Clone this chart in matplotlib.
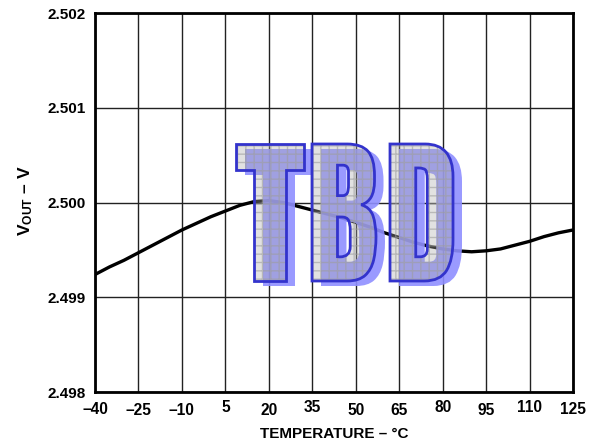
import matplotlib
matplotlib.use("Agg")
import matplotlib.pyplot as plt
from matplotlib.textpath import TextPath
from matplotlib.font_manager import FontProperties, findfont
from matplotlib.patches import PathPatch
from matplotlib.transforms import Affine2D, IdentityTransform, ScaledTranslation

# ---- data ----
temperature = [-40, -35, -30, -25, -20, -15, -10, -5, 0, 5, 10, 15, 20, 25, 30,
               35, 40, 45, 50, 55, 60, 65, 70, 75, 80, 85, 90, 95, 100, 105,
               110, 115, 120, 125]
vout = [2.49924, 2.49932, 2.49939, 2.49947, 2.49955, 2.49963, 2.49971, 2.49978,
        2.49985, 2.49991, 2.49997, 2.50001, 2.50002, 2.50000, 2.49996, 2.49992,
        2.49988, 2.49984, 2.49979, 2.49974, 2.49968, 2.49963, 2.49958, 2.49954,
        2.49951, 2.49949, 2.49948, 2.49949, 2.49951, 2.49955, 2.49959, 2.49964,
        2.49968, 2.49971]
x_ticks = [-40, -25, -10, 5, 20, 35, 50, 65, 80, 95, 110, 125]
x_tick_labels = ["–40", "–25", "–10", "5", "20", "35", "50", "65", "80", "95", "110", "125"]
y_ticks = [2.498, 2.499, 2.500, 2.501, 2.502]
y_tick_labels = ["2.498", "2.499", "2.500", "2.501", "2.502"]
watermark = "TBD"

plt.rcParams['font.family'] = ['Liberation Sans', 'DejaVu Sans']
plt.rcParams['mathtext.fontset'] = 'custom'
plt.rcParams['mathtext.rm'] = 'Liberation Sans:bold'
plt.rcParams['mathtext.bf'] = 'Liberation Sans:bold'

W, H = 601, 445
fig = plt.figure(figsize=(W / 100, H / 100), dpi=100)
ax = fig.add_axes([95 / W, (H - 392) / H, (573 - 95) / W, (392 - 13) / H])

line, = ax.plot(temperature, vout, color='black', lw=2.4, zorder=3, solid_capstyle='butt')
ax.set_xlim(-40, 125)
ax.set_ylim(2.498, 2.502)
ax.set_xticks(x_ticks)
ax.set_xticklabels(x_tick_labels, fontsize=11.2, fontweight='bold')
ax.set_yticks(y_ticks)
ax.set_yticklabels(y_tick_labels, fontsize=11, fontweight='bold')
ax.tick_params(axis='both', length=0, pad=7)
ax.tick_params(axis='x', pad=7)
ax.grid(True, color='#222222', lw=1.0)
for s in ax.spines.values():
    s.set_linewidth(2.0)
    s.set_color('black')

# staggered x tick labels (points, negative = down)
stagger = [0.0, -1.2, -1.2, 1.2, -1.2, 1.2, -1.2, -0.8, 1.2, -1.2, 1.2, 0.0]
for lab, dy in zip(ax.get_xticklabels(), stagger):
    lab.set_transform(lab.get_transform() + ScaledTranslation(0, dy / 72, fig.dpi_scale_trans))

ax.set_xlabel("TEMPERATURE – °C", fontsize=11, fontweight='bold', labelpad=6)
fig.text(26 / W, 1 - 201 / H, r"$\mathrm{V_{OUT}}$" + " – V", rotation=90,
         fontsize=12.5, fontweight='bold', ha='center', va='center')

# ---- TBD watermark ----
fp = None
for fam, wt in [('Anton', 'normal'), ('Oswald', 'bold'), ('Archivo Black', 'normal'),
                ('Roboto', 'black'), ('DejaVu Sans', 'bold')]:
    try:
        cand = FontProperties(family=fam, weight=wt)
        findfont(cand, fallback_to_default=False)
        fp = cand
        break
    except Exception:
        continue

boxes = [(236, 304), (312, 376), (390, 453)]
top_img, bot_img = 144, 281
sdx, sdy = 9, -5
for ch, (x0, x1) in zip(watermark, boxes):
    tp = TextPath((0, 0), ch, size=100, prop=fp)
    bb = tp.get_extents()
    tr = (Affine2D().translate(-bb.x0, -bb.y0)
          .scale((x1 - x0) / bb.width, (bot_img - top_img) / bb.height)
          .translate(x0, H - bot_img))
    path = tr.transform_path(tp)
    spath = Affine2D().translate(sdx, sdy).transform_path(path)
    shadow = PathPatch(spath, transform=IdentityTransform(), facecolor='#8f8fff',
                       edgecolor='none', lw=0, alpha=0.9, zorder=5)
    fill = PathPatch(path, transform=IdentityTransform(), facecolor='#acacac',
                     edgecolor='none', lw=0, alpha=0.36, zorder=6)
    grid = PathPatch(path, transform=IdentityTransform(), facecolor='none',
                     edgecolor=(0.62, 0.62, 0.62, 0.6), lw=0, hatch='++', zorder=6.5)
    outline = PathPatch(path, transform=IdentityTransform(), facecolor='none',
                        edgecolor='#3333cc', lw=2.0, zorder=7)
    for p in (shadow, fill, grid, outline):
        fig.add_artist(p)

fig.savefig("out.png", dpi=100)
